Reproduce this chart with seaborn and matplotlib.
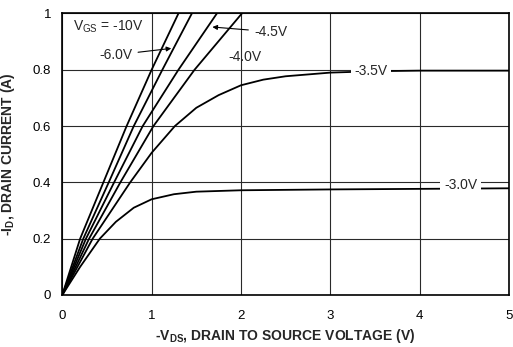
import matplotlib
matplotlib.use("Agg")
import matplotlib.pyplot as plt
import seaborn as sns
import pandas as pd

# Output characteristics: -I_D vs -V_DS for several gate voltages
vgs_labels = ["-10V", "-6.0V", "-4.5V", "-4.0V", "-3.5V", "-3.0V"]

vds_10 = [0.0, 0.20, 0.46, 0.72, 1.00, 1.30]
id_10 = [0.0, 0.20, 0.40, 0.60, 0.80, 1.00]

vds_6 = [0.0, 0.235, 0.52, 0.80, 1.12, 1.45]
id_6 = [0.0, 0.20, 0.40, 0.60, 0.80, 1.00]

vds_45 = [0.0, 0.265, 0.58, 0.90, 1.30, 1.73]
id_45 = [0.0, 0.20, 0.40, 0.60, 0.80, 1.00]

vds_4 = [0.0, 0.30, 0.65, 1.02, 1.48, 2.01]
id_4 = [0.0, 0.20, 0.40, 0.60, 0.80, 1.00]

vds_35 = [0.0, 0.34, 0.55, 0.76, 1.00, 1.26, 1.50, 1.75, 2.00, 2.25, 2.50,
          3.00, 3.50, 4.00, 5.00]
id_35 = [0.0, 0.20, 0.30, 0.40, 0.505, 0.60, 0.665, 0.71, 0.745, 0.765, 0.777,
         0.79, 0.795, 0.797, 0.797]

vds_3 = [0.0, 0.20, 0.42, 0.60, 0.80, 1.00, 1.25, 1.50, 2.00, 3.00, 4.00, 5.00]
id_3 = [0.0, 0.10, 0.20, 0.26, 0.31, 0.34, 0.358, 0.367, 0.372, 0.375, 0.377, 0.379]

x_ticks = [0, 1, 2, 3, 4, 5]
y_ticks = [0, 0.2, 0.4, 0.6, 0.8, 1.0]
y_tick_labels = ["0", "0.2", "0.4", "0.6", "0.8", "1"]

curves = [(vds_10, id_10), (vds_6, id_6), (vds_45, id_45),
          (vds_4, id_4), (vds_35, id_35), (vds_3, id_3)]
frames = []
for lab, (xs, ys) in zip(vgs_labels, curves):
    frames.append(pd.DataFrame({"vds": xs, "id": ys, "vgs": lab}))
df = pd.concat(frames, ignore_index=True)

sns.set_theme(style="white")
plt.rcParams["font.family"] = ["Liberation Sans", "DejaVu Sans"]

fig = plt.figure(figsize=(5.13, 3.47), dpi=100)
ax = fig.add_axes([0.1214, 0.1499, 0.8708, 0.8112])

sns.lineplot(data=df, x="vds", y="id", units="vgs", estimator=None,
             color="black", linewidth=1.3, sort=False, legend=False, ax=ax,
             zorder=3)

ax.set_xlim(0, 5)
ax.set_ylim(0, 1)
ax.set_xticks(x_ticks)
ax.set_xticklabels([str(t) for t in x_ticks])
ax.set_yticks(y_ticks)
ax.set_yticklabels(y_tick_labels)
ax.set_xticks([0.5, 1.5, 2.5, 3.5, 4.5], minor=True)
ax.set_yticks([0.1, 0.3, 0.5, 0.7, 0.9], minor=True)
ax.grid(True, which="major", color="#2a2a2a", linewidth=0.8)
ax.tick_params(which="both", direction="in", colors="black", labelsize=9.5,
               length=4, width=0.8, top=False, right=False)
ax.tick_params(axis="x", which="major", pad=11)
ax.tick_params(axis="y", which="major", pad=8)
for s in ax.spines.values():
    s.set_visible(True)
    s.set_color("black")
    s.set_linewidth(1.2)

ax.set_xlabel(r"-V$_{\mathregular{DS}}$, DRAIN TO SOURCE VOLTAGE (V)",
              fontsize=10, fontweight="bold")
ax.set_ylabel(r"-I$_{\mathregular{D}}$, DRAIN CURRENT (A)",
              fontsize=10, fontweight="bold")
ax.xaxis.set_label_coords(0.5, -0.113)
ax.yaxis.set_label_coords(-0.102, 0.5)

# Curve annotations
ax.text(0.12, 0.953, r"V$_{\mathregular{GS}}$ = -10V", fontsize=10,
        ha="left", va="center")
ax.annotate("-6.0V", xy=(1.22, 0.876), xytext=(0.41, 0.853), fontsize=10,
            ha="left", va="center",
            arrowprops=dict(arrowstyle="-|>", color="black", lw=0.8,
                            mutation_scale=7, shrinkA=2, shrinkB=0))
ax.annotate("-4.5V", xy=(1.68, 0.952), xytext=(2.15, 0.935), fontsize=10,
            ha="left", va="center",
            arrowprops=dict(arrowstyle="-|>", color="black", lw=0.8,
                            mutation_scale=7, shrinkA=2, shrinkB=0))
ax.text(2.04, 0.845, "-4.0V", fontsize=10, ha="center", va="center")
ax.text(3.46, 0.796, "-3.5V", fontsize=10, ha="center", va="center",
        bbox=dict(boxstyle="square,pad=0.25", facecolor="white", edgecolor="none"),
        zorder=5)
ax.text(4.46, 0.39, "-3.0V", fontsize=10, ha="center", va="center",
        bbox=dict(boxstyle="square,pad=0.3", facecolor="white", edgecolor="none"),
        zorder=5)

fig.savefig("out.png", dpi=100)
